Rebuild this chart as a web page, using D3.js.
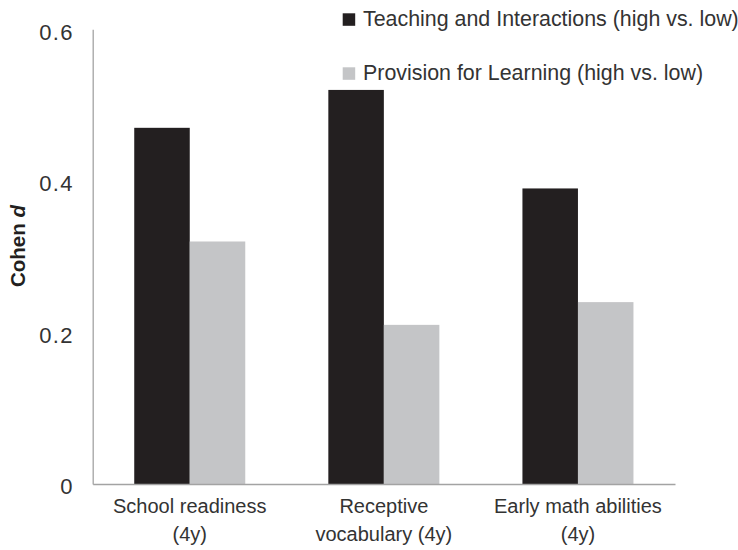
<!DOCTYPE html>
<html>
<head>
<meta charset="utf-8">
<script src="https://cdn.jsdelivr.net/npm/d3@7"></script>
<style>
  body { margin: 0; background: #fff; }
  svg { display: block; }
  .lbl { font-family: "Liberation Sans", Arial, sans-serif; }
</style>
</head>
<body>
<svg id="chart" width="738" height="550"></svg>
<script>
const categories = [["School readiness", "(4y)"], ["Receptive", "vocabulary (4y)"], ["Early math abilities", "(4y)"]];
const seriesNames = ["Teaching and Interactions (high vs. low)", "Provision for Learning (high vs. low)"];
const teaching = [0.47, 0.52, 0.39];
const provision = [0.32, 0.21, 0.24];
const yTicks = [0, 0.2, 0.4, 0.6];
const yTickLabels = ["0", "0.2", "0.4", "0.6"];
const colors = ["#231f20", "#c4c5c7"];

const svg = d3.select("#chart");
const mLeft = 92.7, mRight = 675, mTop = 29.3, mBottom = 484;

const x0 = d3.scaleBand().domain(d3.range(categories.length)).range([mLeft, mRight])
  .paddingInner(0.428).paddingOuter(0.214);
const x1 = d3.scaleBand().domain([0, 1]).range([0, x0.bandwidth()]);
const y = d3.scaleLinear().domain([0, 0.6]).range([mBottom, mTop]);

const series = [teaching, provision];

// bars
series.forEach((vals, si) => {
  svg.append("g").selectAll("rect").data(vals).join("rect")
    .attr("x", (d, i) => x0(i) + x1(si))
    .attr("y", d => y(d))
    .attr("width", x1.bandwidth())
    .attr("height", d => y(0) - y(d))
    .attr("fill", colors[si]);
});

// y axis
const yAxis = d3.axisLeft(y).tickValues(yTicks).tickFormat((d, i) => yTickLabels[i]).tickSize(0).tickPadding(19);
const yg = svg.append("g").attr("transform", `translate(${mLeft},0)`).call(yAxis);
yg.select(".domain").attr("stroke", "#a3a3a3").attr("stroke-width", 1.3);
yg.selectAll("text").attr("font-family", "Liberation Sans, Arial, sans-serif").attr("font-size", 22)
  .attr("letter-spacing", 1.3).attr("fill", "#333").attr("dy", "0.45em");

// x axis
const xg = svg.append("g").attr("transform", `translate(0,${mBottom})`)
  .call(d3.axisBottom(x0).tickSize(0).tickFormat(() => ""));
xg.select(".domain").attr("stroke", "#a3a3a3").attr("stroke-width", 1.3);

// category labels
categories.forEach((lines, i) => {
  const cx = x0(i) + x0.bandwidth() / 2;
  const t = svg.append("text").attr("class", "lbl")
    .attr("x", cx).attr("y", 513)
    .attr("text-anchor", "middle").attr("font-size", 20).attr("fill", "#333");
  lines.forEach((ln, j) => {
    t.append("tspan").attr("x", cx).attr("dy", j === 0 ? 0 : 28).text(ln);
  });
});

// y title
const yt = svg.append("text")
  .attr("transform", "translate(25,246) rotate(-90)")
  .attr("text-anchor", "middle")
  .attr("font-family", "Liberation Sans, Arial, sans-serif")
  .attr("font-weight", "bold").attr("font-size", 20.5).attr("fill", "#231f20");
yt.append("tspan").text("Cohen ");
yt.append("tspan").attr("font-style", "italic").text("d");

// legend
seriesNames.forEach((name, i) => {
  const gy = 13.3 + i * 54;
  svg.append("rect").attr("x", 342.7).attr("y", gy).attr("width", 12.5).attr("height", 12.5).attr("fill", colors[i]);
  svg.append("text").attr("class", "lbl").attr("x", 363).attr("y", gy + 13)
    .attr("font-size", 21.4).attr("fill", "#333").text(name);
});
</script>
</body>
</html>
